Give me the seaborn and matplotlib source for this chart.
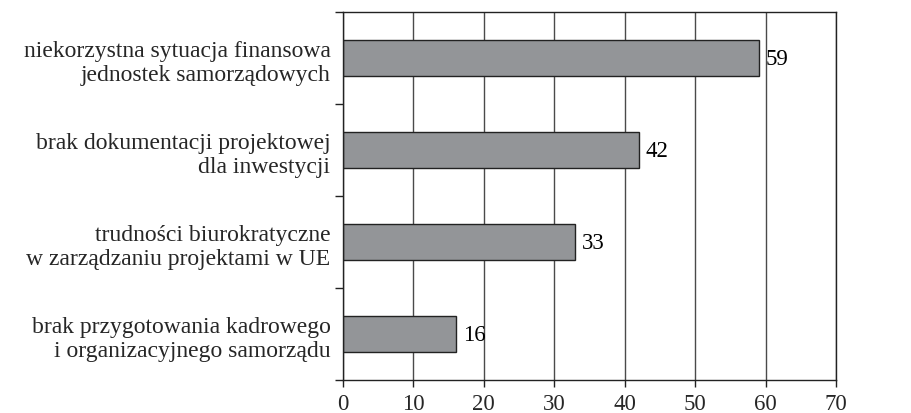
import numpy as np
import pandas as pd
import matplotlib.pyplot as plt
import seaborn as sns

# Dane
kategorie = [
    'niekorzystna sytuacja finansowa\njednostek samorządowych',
    'brak dokumentacji projektowej\ndla inwestycji',
    'trudności biurokratyczne\nw zarządzaniu projektami w UE',
    'brak przygotowania kadrowego\ni organizacyjnego samorządu',
]
wartosci = [59, 42, 33, 16]
x_ticks = [0, 10, 20, 30, 40, 50, 60, 70]

df = pd.DataFrame({'kategoria': kategorie, 'wartosc': wartosci})

sns.set_style('white')
plt.rcParams['font.family'] = ['Liberation Serif', 'DejaVu Serif']

fig = plt.figure(figsize=(9.11, 4.14), dpi=100)
ax = fig.add_axes([0.3765, 0.0797, 0.5412, 0.8889])

sns.barplot(data=df, x='wartosc', y='kategoria', orient='h', color='#939598',
            edgecolor='#222222', linewidth=1.0, width=0.39, saturation=1, ax=ax)

# etykiety wartości
for i, v in enumerate(wartosci):
    ax.annotate(str(v), (v, i), xytext=(5, 0), textcoords='offset points',
                va='center', ha='left', fontsize=16.5, color='black')

ax.set_xlim(0, 70)
ax.set_ylim(3.5, -0.5)
ax.set_xticks(x_ticks)
ax.tick_params(axis='x', labelsize=16.5, length=5, width=1, color='#222222',
               direction='out', pad=4, bottom=True)
ax.set_yticks(range(len(kategorie)))
ax.set_yticklabels(kategorie, linespacing=1.2)
ax.tick_params(axis='y', which='major', labelsize=17, length=0, pad=9)
ax.set_yticks(np.arange(-0.5, 4, 1), minor=True)
ax.tick_params(axis='y', which='minor', length=6, width=1, color='#222222',
               direction='out', left=True)

ax.xaxis.grid(True, color='#4a4a4a', linewidth=1.0)
ax.set_axisbelow(True)
for s in ax.spines.values():
    s.set_visible(True)
    s.set_color('#222222')
    s.set_linewidth(1.0)

ax.set_xlabel('')
ax.set_ylabel('')

fig.savefig('out.png', dpi=100)
